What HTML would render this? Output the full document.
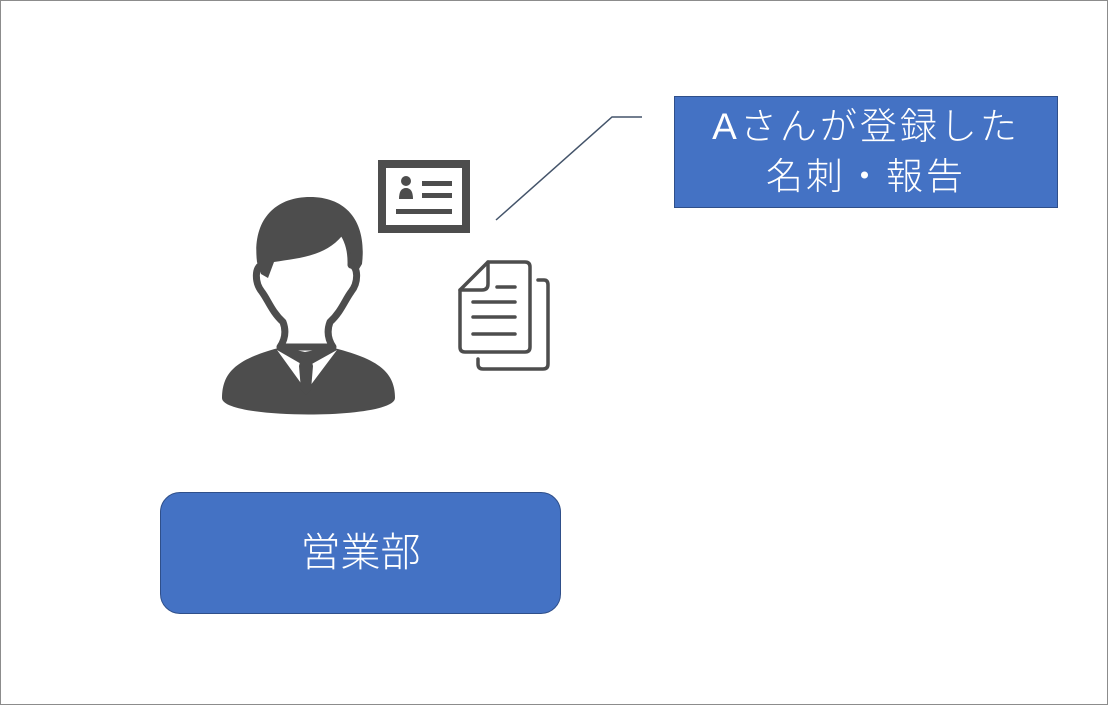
<!DOCTYPE html>
<html><head><meta charset="utf-8"><style>
html,body{margin:0;padding:0;background:#fff}
#f{position:relative;width:1106px;height:703px;border:1px solid #8c8c8c;overflow:hidden;background:#fff}
.box{position:absolute;background:#4472c4;color:#fff;font-family:"Liberation Sans","Noto Sans CJK JP",sans-serif;font-weight:300;text-align:center;box-sizing:border-box}
</style></head><body><div id="f">
<svg width="1108" height="705" style="position:absolute;left:-1px;top:-1px">
<polyline points="496,220 612,117 642,117" fill="none" stroke="#44546a" stroke-width="1.5"/>
<rect x="382" y="164" width="84" height="65" fill="#fff" stroke="#4d4d4d" stroke-width="8"/>
<circle cx="406" cy="181" r="5" fill="#4d4d4d"/>
<path d="M399,199 Q399,188 406,188 Q413,188 413,199 Z" fill="#4d4d4d"/>
<rect x="422" y="181" width="30" height="5" fill="#4d4d4d"/>
<rect x="422" y="193" width="30" height="5" fill="#4d4d4d"/>
<rect x="396" y="209" width="56" height="5" fill="#4d4d4d"/>
<g fill="none" stroke="#4d4d4d" stroke-width="3.5" stroke-linejoin="round" stroke-linecap="round">
<path d="M538,280 L544,280 Q548,280 548,285 L548,364 Q548,369 543,369 L483,369 Q478,369 478,364 L478,359"/>
<path d="M488,262 L525,262 Q530,262 530,267 L530,347 Q530,352 525,352 L465,352 Q460,352 460,347 L460,290 Z"/>
<path d="M488,262 L488,284 Q488,290 482,290 L460,290"/>
<path d="M497,287 L515,287 M473,302 L515,302 M473,317 L515,317 M473,334 L515,334"/>
</g>
<path d="M222,398 C222,370 240,358 282,347 L305,352 L330,347 C375,358 395,370 395,398 C395,420 222,420 222,398 Z" fill="#4d4d4d"/>
<path d="M277,350 L303,386 L303,365 Z M337,350 L310,386 L310,365 Z" fill="#fff"/>
<path d="M301,358 L311,358 L313,366 L311,390 L306,395 L301,390 L299,366 Z" fill="#4d4d4d"/>
<path d="M262,265 C255,266 254,282 262,292 C268,300 272,312 283,322 C286,330 286,338 280,347 L333,347 C327,338 327,330 330,322 C341,312 345,300 351,292 C359,282 358,266 351,265 C352,235 335,215 307,215 C279,215 261,235 262,265 Z" fill="#fff" stroke="#4d4d4d" stroke-width="7" stroke-linejoin="round"/>
<path d="M257,262 C252,220 275,197 310,197 C347,197 367,222 362,264 L356,274 C353,258 350,250 342,236 C325,256 300,258 274,262 L268,278 L261,274 Z" fill="#4d4d4d"/>
</svg>
<div class="box" style="left:673px;top:95px;width:384px;height:112px;border:1px solid #2f4f8a;font-size:37px;line-height:50px;padding-top:5px;letter-spacing:3px">Aさんが登録した<br>名刺・報告</div>
<div class="box" style="left:159px;top:491px;width:401px;height:122px;border:1px solid #2f4f8a;border-radius:20px;font-size:40px;line-height:120px">営業部</div>
</div></body></html>
